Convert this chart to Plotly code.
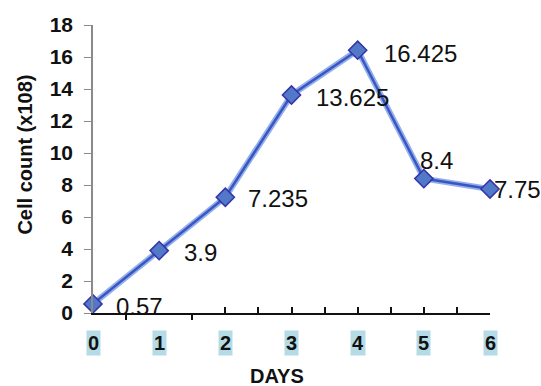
import plotly.graph_objects as go

# Cell growth over a week
days = [0, 1, 2, 3, 4, 5, 6]
cell_count = [0.57, 3.9, 7.235, 13.625, 16.425, 8.4, 7.75]

y_ticks = [0, 2, 4, 6, 8, 10, 12, 14, 16, 18]
x_tick_labels = ["0", "1", "2", "3", "4", "5", "6"]
up_ticks = [2, 2.5, 3, 3.5, 4, 4.5, 5, 5.5, 6]
down_ticks = [0.5, 1.5]

# per-point label offsets (px) relative to each marker
label_shift = [(21, -3), (23, -2), (21, -1), (22, -2), (24, -3), (-6, 18), (2, 0)]

FONT = "Liberation Sans, Arial, sans-serif"

fig = go.Figure()

# soft halo under the line
fig.add_trace(go.Scatter(
    x=days, y=cell_count, mode="lines",
    line=dict(color="rgba(110,150,225,0.75)", width=6),
    hoverinfo="skip", showlegend=False, cliponaxis=False,
))
fig.add_trace(go.Scatter(
    x=days, y=cell_count, mode="lines+markers",
    line=dict(color="#3b55c4", width=2.5),
    marker=dict(symbol="diamond", size=14, color="#5278c8",
                line=dict(color="#3434a8", width=1.5)),
    showlegend=False, cliponaxis=False,
))
# carrier trace for the secondary tick axis
fig.add_trace(go.Scatter(
    x=[days[0]], y=[cell_count[0]], xaxis="x2", mode="markers",
    marker=dict(opacity=0), hoverinfo="skip", showlegend=False,
))

annotations = []
for d, v, (dx, dy) in zip(days, cell_count, label_shift):
    annotations.append(dict(
        x=d, y=v, xref="x", yref="y", text=str(v), showarrow=False,
        xanchor="left", yanchor="middle", xshift=dx, yshift=dy,
        font=dict(family=FONT, size=24, color="#111111"),
    ))
for d, lab in zip(days, x_tick_labels):
    annotations.append(dict(
        x=d, y=-0.104, xref="x", yref="paper", text=f"<b>{lab}</b>",
        showarrow=False, xanchor="center", yanchor="middle",
        bgcolor="#b5dce6", borderpad=1,
        font=dict(family=FONT, size=20, color="#111111"),
    ))
annotations.append(dict(
    x=0.463, y=-0.219, xref="paper", yref="paper", text="<b>DAYS</b>",
    showarrow=False, xanchor="center", yanchor="middle",
    font=dict(family=FONT, size=20, color="#111111"),
))
annotations.append(dict(
    x=-0.172, y=0.549, xref="paper", yref="paper",
    text="<b>Cell count (x108)</b>", textangle=-90, showarrow=False,
    xanchor="center", yanchor="middle",
    font=dict(family=FONT, size=20, color="#111111"),
))

fig.update_layout(
    width=541, height=386,
    margin=dict(l=93, r=51, t=25, b=73),
    paper_bgcolor="white", plot_bgcolor="white",
    annotations=annotations,
    xaxis=dict(
        range=[0, 6], showgrid=False, zeroline=False,
        showline=True, linecolor="#111111", linewidth=1.5,
        tickmode="array", tickvals=up_ticks, ticks="inside",
        ticklen=6, tickwidth=1.5, tickcolor="#111111",
        showticklabels=False,
    ),
    xaxis2=dict(
        range=[0, 6], overlaying="x", side="bottom", showgrid=False,
        zeroline=False, showline=False,
        tickmode="array", tickvals=down_ticks, ticks="outside",
        ticklen=6, tickwidth=1.5, tickcolor="#111111",
        showticklabels=False,
    ),
    yaxis=dict(
        range=[0, 18], showgrid=False, zeroline=False,
        showline=True, linecolor="#8a8a8a", linewidth=1.5,
        tickmode="array", tickvals=y_ticks, ticks="outside",
        ticklen=7, tickwidth=1.2, tickcolor="#8a8a8a",
        ticklabelstandoff=7,
        tickfont=dict(family=FONT, size=21, color="#111111", weight="bold"),
    ),
)

fig.write_html("out.html")
